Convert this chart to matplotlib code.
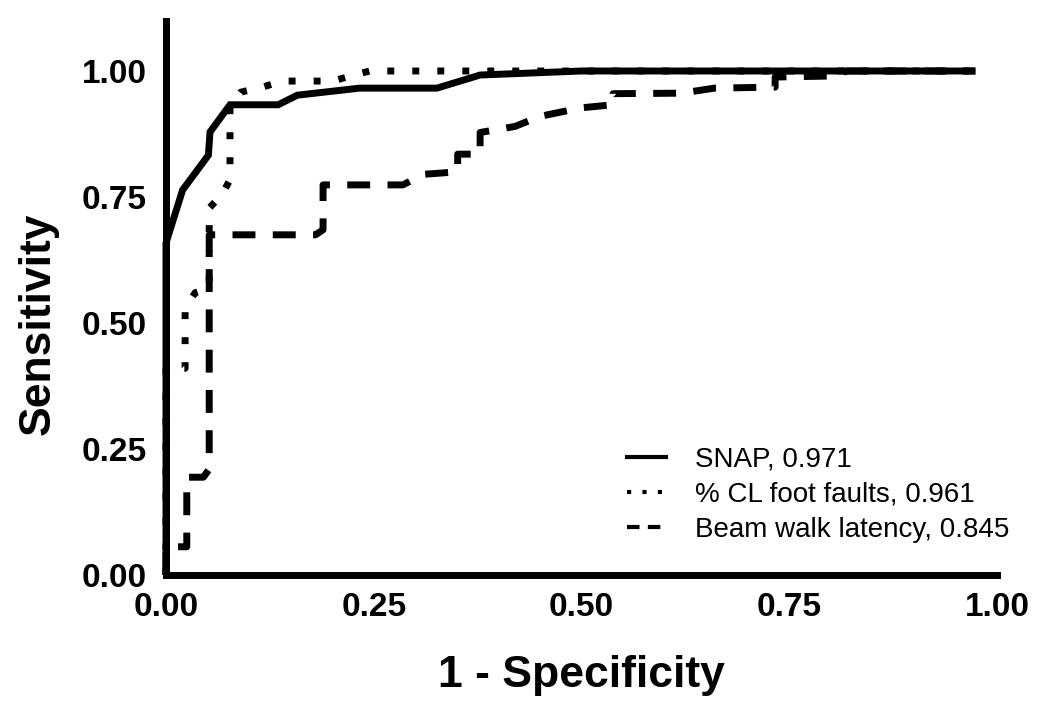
import matplotlib
matplotlib.use("Agg")
import matplotlib.pyplot as plt
from matplotlib.lines import Line2D

# ---- data ----
snap_x = [0, 0, 0.020, 0.051, 0.053, 0.077, 0.135, 0.158, 0.233, 0.326, 0.378, 0.50, 0.974]
snap_y = [0, 0.659, 0.764, 0.833, 0.879, 0.933, 0.933, 0.952, 0.966, 0.966, 0.992, 1.0, 1.0]

ff_x = [0, 0, 0.023, 0.023, 0.035, 0.052, 0.052, 0.067, 0.077, 0.077, 0.090, 0.116, 0.140, 0.200, 0.245, 0.974]
ff_y = [0, 0.41, 0.41, 0.53, 0.56, 0.57, 0.728, 0.754, 0.784, 0.93, 0.958, 0.968, 0.98, 0.98, 1.0, 1.0]

bw_x = [0, 0, 0.025, 0.025, 0.045, 0.052, 0.052, 0.180, 0.189, 0.189, 0.285, 0.310, 0.351, 0.351,
        0.378, 0.378, 0.420, 0.450, 0.500, 0.538, 0.538, 0.620, 0.660, 0.733, 0.733, 0.800, 0.820, 0.974]
bw_y = [0, 0.056, 0.056, 0.194, 0.194, 0.210, 0.675, 0.675, 0.685, 0.774, 0.774, 0.795, 0.800, 0.835,
        0.835, 0.878, 0.890, 0.910, 0.927, 0.933, 0.955, 0.956, 0.966, 0.968, 0.988, 0.990, 1.0, 1.0]

labels = ["SNAP, 0.971", "% CL foot faults, 0.961", "Beam walk latency, 0.845"]
xticks = [0.00, 0.25, 0.50, 0.75, 1.00]
yticks = [0.00, 0.25, 0.50, 0.75, 1.00]
tick_labels = ["0.00", "0.25", "0.50", "0.75", "1.00"]

# ---- styling ----
FONT = "Liberation Sans"
plt.rcParams["font.family"] = [FONT, "DejaVu Sans"]

fig = plt.figure(figsize=(10.5, 7.06), dpi=100)
ax = fig.add_axes([166/1050, 131/706, 831/1050, 554.4/706])

LW = 5
dot_style = (0, (1.0, 2.6))
dash_style = (0, (3.3, 2.5))

ax.plot(snap_x, snap_y, color="black", lw=LW, solid_capstyle="butt",
        solid_joinstyle="miter", clip_on=False, zorder=3)
ax.plot(ff_x, ff_y, color="black", lw=LW, linestyle=dot_style,
        dash_capstyle="butt", clip_on=False, zorder=3)
ax.plot(bw_x, bw_y, color="black", lw=LW, linestyle=dash_style,
        dash_capstyle="butt", clip_on=False, zorder=3)

ax.set_xlim(0, 1.0)
ax.set_ylim(0, 1.1)

for s in ["top", "right"]:
    ax.spines[s].set_visible(False)
for s in ["left", "bottom"]:
    ax.spines[s].set_linewidth(5)
    ax.spines[s].set_capstyle("projecting")
    ax.spines[s].set_zorder(4)

ax.set_xticks(xticks)
ax.set_xticklabels(tick_labels)
ax.set_yticks(yticks)
ax.set_yticklabels(tick_labels)
ax.tick_params(axis="both", length=0, labelsize=24)
ax.tick_params(axis="x", pad=12)
ax.tick_params(axis="y", pad=14)
for t in ax.get_xticklabels() + ax.get_yticklabels():
    t.set_fontweight("bold")

ax.set_xlabel("1 - Specificity", fontsize=32, fontweight="bold")
ax.set_ylabel("Sensitivity", fontsize=32, fontweight="bold")
ax.xaxis.set_label_coords(0.5, -0.144)
ax.yaxis.set_label_coords(-0.129, 0.453)

handles = [
    Line2D([], [], color="black", lw=3),
    Line2D([], [], color="black", lw=3, linestyle=(0, (1.0, 2.7)), dash_capstyle="butt"),
    Line2D([], [], color="black", lw=3, linestyle=(0, (3.0, 2.0)), dash_capstyle="butt"),
]
leg = ax.legend(handles, labels, loc="upper left", bbox_to_anchor=(0.555, 0.232),
                frameon=False, fontsize=20, handlelength=1.4, handletextpad=1.05,
                labelspacing=0.33, borderpad=0, borderaxespad=0)

fig.savefig("out.png", dpi=100)
